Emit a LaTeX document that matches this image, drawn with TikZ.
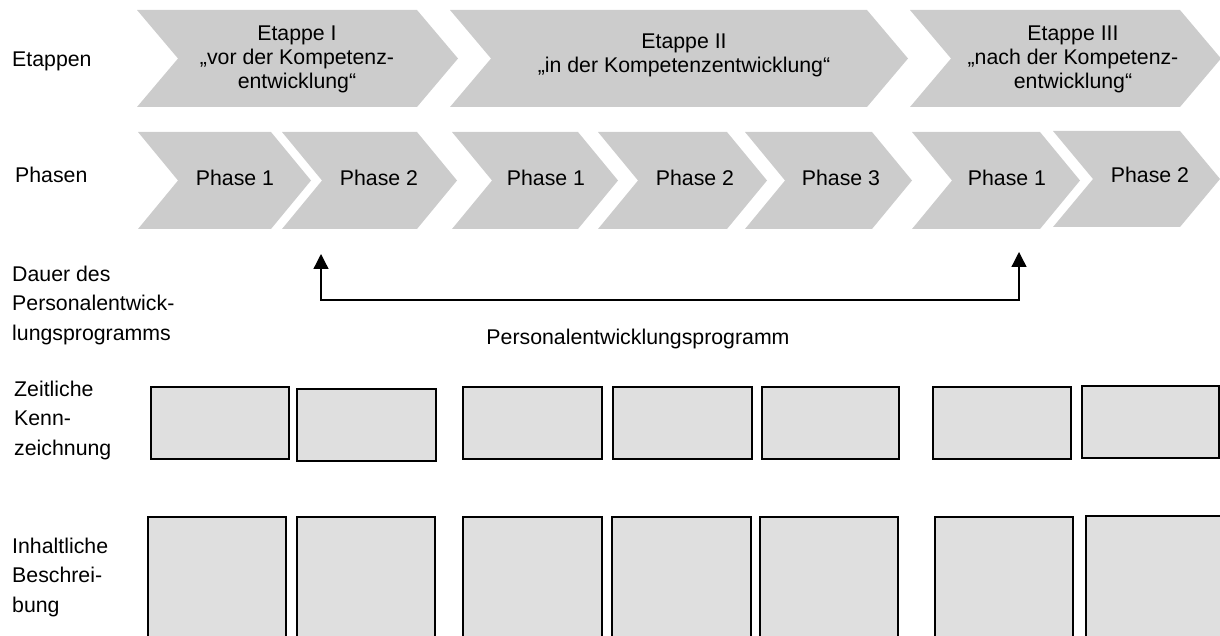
\documentclass[tikz,border=0pt]{standalone}
\usepackage{fontspec}
\setmainfont{Liberation Sans}
\usepackage{xcolor}
\usepackage{tikz}
\usetikzlibrary{arrows.meta}
\definecolor{chevgray}{RGB}{204,204,204}
\definecolor{boxgray}{RGB}{223,223,223}

\begin{document}
\begin{tikzpicture}[x=1pt,y=-1pt,
	chev/.style={fill=chevgray},
	kasten/.style={fill=boxgray,draw=black,line width=1.2pt},
	txt/.style={font=\fontsize{21.3}{24}\selectfont,inner sep=0pt,align=center},
	randtxt/.style={font=\fontsize{21.3}{29.3}\selectfont,inner sep=0pt,align=left,anchor=base west},
	pfeil/.style={{Triangle[length=15pt,width=15pt]}-{Triangle[length=15pt,width=15pt]},line width=1.3pt}]
	\useasboundingbox (0,0) rectangle (1220,636);
	\clip (0,0) rectangle (1220,636);
	% Etappen
	\fill[chev] (137,10) -- (417,10) -- (458,58.5) -- (417,107) -- (137,107) -- (178,58.5) -- cycle;
	\fill[chev] (450,10) -- (867,10) -- (908,58.5) -- (867,107) -- (450,107) -- (491,58.5) -- cycle;
	\fill[chev] (910,10) -- (1180,10) -- (1221,58.5) -- (1180,107) -- (910,107) -- (951,58.5) -- cycle;
	\node[txt] (etappe1) at (297,59) {Etappe I\\„vor der Kompetenz-\\entwicklung“};
	\node[txt] (etappe2) at (684,55) {Etappe II\\„in der Kompetenzentwicklung“};
	\node[txt] (etappe3) at (1073,59) {Etappe III\\„nach der Kompetenz-\\entwicklung“};
	% Phasen
	\fill[chev] (138,132) -- (271,132) -- (311,180.5) -- (271,229) -- (138,229) -- (178,180.5) -- cycle;
	\fill[chev] (282,132) -- (417,132) -- (457,180.5) -- (417,229) -- (282,229) -- (322,180.5) -- cycle;
	\fill[chev] (452,132) -- (578,132) -- (618,180.5) -- (578,229) -- (452,229) -- (492,180.5) -- cycle;
	\fill[chev] (598,132) -- (727,132) -- (767,180.5) -- (727,229) -- (598,229) -- (638,180.5) -- cycle;
	\fill[chev] (745,132) -- (872,132) -- (912,180.5) -- (872,229) -- (745,229) -- (785,180.5) -- cycle;
	\fill[chev] (912,132) -- (1040,132) -- (1080,180.5) -- (1040,229) -- (912,229) -- (952,180.5) -- cycle;
	\fill[chev] (1053,131) -- (1180,131) -- (1220,179) -- (1180,227) -- (1053,227) -- (1093,179) -- cycle;
	\node[txt,anchor=base] (ph11) at (235,186) {Phase 1};
	\node[txt,anchor=base] (ph12) at (379,186) {Phase 2};
	\node[txt,anchor=base] (ph21) at (546,186) {Phase 1};
	\node[txt,anchor=base] (ph22) at (695,186) {Phase 2};
	\node[txt,anchor=base] (ph23) at (841,186) {Phase 3};
	\node[txt,anchor=base] (ph31) at (1007,186) {Phase 1};
	\node[txt,anchor=base] (ph32) at (1150,183) {Phase 2};
	% Dauer
	\coordinate (pe-start) at (321,254);
	\coordinate (pe-knick) at (1019,300);
	\coordinate (pe-end) at (1019,252);
	\draw[pfeil] (pe-start) |- (pe-knick) -- (pe-end);
	\node[txt,anchor=base] (pe-label) at (638,344) {Personalentwicklungsprogramm};
	% Zeitliche Kennzeichnung
	\draw[kasten] (151,387) rectangle (289,459);
	\draw[kasten] (297,389) rectangle (436,461);
	\draw[kasten] (463,387) rectangle (602,459);
	\draw[kasten] (613,387) rectangle (752,459);
	\draw[kasten] (762,387) rectangle (899,459);
	\draw[kasten] (933,387) rectangle (1071,459);
	\draw[kasten] (1082,386) rectangle (1219,458);
	% Inhaltliche Beschreibung
	\draw[kasten] (148,517) rectangle (286,650);
	\draw[kasten] (297,517) rectangle (435,650);
	\draw[kasten] (463,517) rectangle (602,650);
	\draw[kasten] (612,517) rectangle (751,650);
	\draw[kasten] (760,517) rectangle (898,650);
	\draw[kasten] (935,517) rectangle (1073,650);
	\draw[kasten] (1086,516) rectangle (1224,650);
	% Zeilenbeschriftung (base = letzte Zeile)
	\node[randtxt] (l-etappen) at (12,67) {Etappen};
	\node[randtxt] (l-phasen) at (15,183) {Phasen};
	\node[randtxt] (l-dauer) at (12,340) {Dauer des\\Personalentwick-\\lungsprogramms};
	\node[randtxt] (l-zeit) at (14,455) {Zeitliche\\Kenn-\\zeichnung};
	\node[randtxt] (l-inhalt) at (12,612) {Inhaltliche\\Beschrei-\\bung};
\end{tikzpicture}
\end{document}
